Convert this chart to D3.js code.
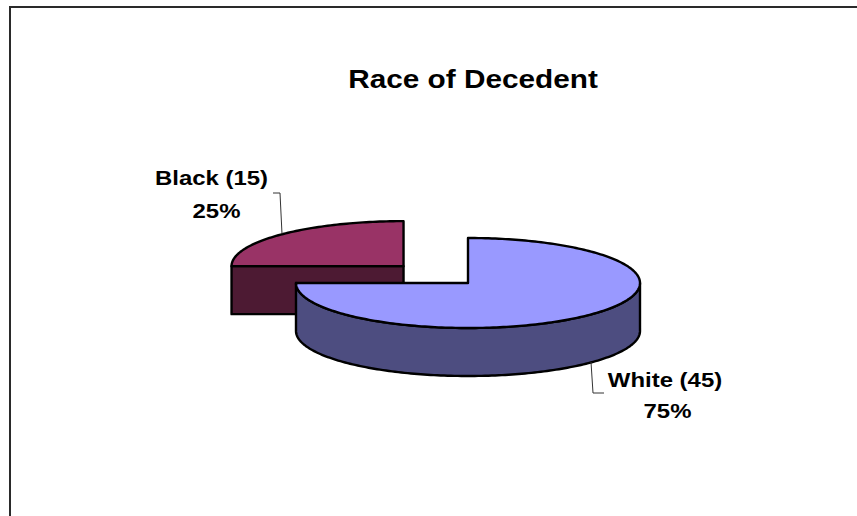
<!DOCTYPE html>
<html>
<head>
<meta charset="utf-8">
<script src="https://cdn.jsdelivr.net/npm/d3@7"></script>
<style>
  html, body { margin: 0; padding: 0; background: #fff; }
  svg { display: block; }
  text { font-family: "Liberation Sans", Arial, sans-serif; font-weight: bold; fill: #000; }
</style>
</head>
<body>
<svg id="chart" width="857" height="516"></svg>
<script>
// ---- data ----
const title = "Race of Decedent";
const categories = ["Black", "White"];
const values = [15, 45];
const topColors = ["#993366", "#9999FF"];
const sideColors = ["#4D1A33", "#4D4D80"];
const explode = [0.53, 0];

// ---- layout ----
const W = 857, H = 516;
const cx = 468, cy = 283, rx = 172, ry = 45, depth = 48;
const total = d3.sum(values);

const svg = d3.select("#chart");

// frame
svg.append("rect")
  .attr("x", 10).attr("y", 7).attr("width", 900).attr("height", 600)
  .attr("fill", "none").attr("stroke", "#2a2a2a").attr("stroke-width", 2);

// title
svg.append("text")
  .attr("text-anchor", "middle")
  .attr("transform", "translate(473,88) scale(1.19,1)")
  .style("font-size", "25px")
  .text(title);

const pie = d3.pie().sort(null).value(d => d)
  .startAngle(-Math.PI / 2).endAngle(3 * Math.PI / 2);
const arcs = pie(values);

const line = d3.line();
function pt(a, x0, y0) { return [x0 + rx * Math.sin(a), y0 - ry * Math.cos(a)]; }
function samples(a0, a1) {
  const n = Math.max(2, Math.ceil(Math.abs(a1 - a0) / 0.02));
  return d3.range(n + 1).map(i => a0 + (a1 - a0) * i / n);
}

const g = svg.append("g");
const strokeW = 2.4;

arcs.forEach((arc, i) => {
  const mid = (arc.startAngle + arc.endAngle) / 2;
  const ox = cx + explode[i] * rx * Math.sin(mid);
  const oy = cy - explode[i] * ry * Math.cos(mid);
  const sg = g.append("g");

  // cut faces
  [[arc.startAngle, arc.startAngle - Math.PI / 2], [arc.endAngle, arc.endAngle + Math.PI / 2]].forEach(([a, n]) => {
    if (Math.cos(n) < -1e-6) {
      const p = pt(a, ox, oy);
      const pts = [[ox, oy], p, [p[0], p[1] + depth], [ox, oy + depth]];
      sg.append("path").attr("d", line(pts) + "Z")
        .attr("fill", sideColors[i]).attr("stroke", "#000")
        .attr("stroke-width", strokeW).attr("stroke-linejoin", "round");
    }
  });

  // outer wall (front half only: angles between PI/2 and 3PI/2)
  const norm = a => ((a % (2 * Math.PI)) + 2 * Math.PI) % (2 * Math.PI);
  const s0 = arc.startAngle, e0 = arc.endAngle;
  // check ranges in [PI/2, 3PI/2] shifted by multiples of 2PI
  [-2 * Math.PI, 0, 2 * Math.PI].forEach(k => {
    const lo = Math.max(s0, Math.PI / 2 + k), hi = Math.min(e0, 3 * Math.PI / 2 + k);
    if (hi - lo > 1e-6) {
      const topPts = samples(lo, hi).map(a => pt(a, ox, oy));
      const botPts = topPts.map(p => [p[0], p[1] + depth]).reverse();
      sg.append("path").attr("d", line(topPts.concat(botPts)) + "Z")
        .attr("fill", sideColors[i]).attr("stroke", "#000")
        .attr("stroke-width", strokeW).attr("stroke-linejoin", "round");
    }
  });

  // top face
  const topPts = [[ox, oy]].concat(samples(s0, e0).map(a => pt(a, ox, oy)));
  sg.append("path").attr("d", line(topPts) + "Z")
    .attr("fill", topColors[i]).attr("stroke", "#000")
    .attr("stroke-width", strokeW).attr("stroke-linejoin", "round");
});

// labels
const labelPos = [
  { l1: [211.5, 185], l2: [216.5, 218], leader: [[273, 193], [280, 193], [282, 234]] },
  { l1: [665, 387], l2: [667.5, 418], leader: [[591, 362], [593, 393], [604, 393]] }
];
categories.forEach((c, i) => {
  const lp = labelPos[i];
  svg.append("path").attr("d", line(lp.leader))
    .attr("fill", "none").attr("stroke", "#333").attr("stroke-width", 1);
  svg.append("text").attr("text-anchor", "middle")
    .attr("transform", `translate(${lp.l1[0]},${lp.l1[1]}) scale(1.14,1)`)
    .style("font-size", "21px")
    .text(`${c} (${values[i]})`);
  svg.append("text").attr("text-anchor", "middle")
    .attr("transform", `translate(${lp.l2[0]},${lp.l2[1]}) scale(1.14,1)`)
    .style("font-size", "21px")
    .text(`${Math.round(values[i] / total * 100)}%`);
});
</script>
</body>
</html>
